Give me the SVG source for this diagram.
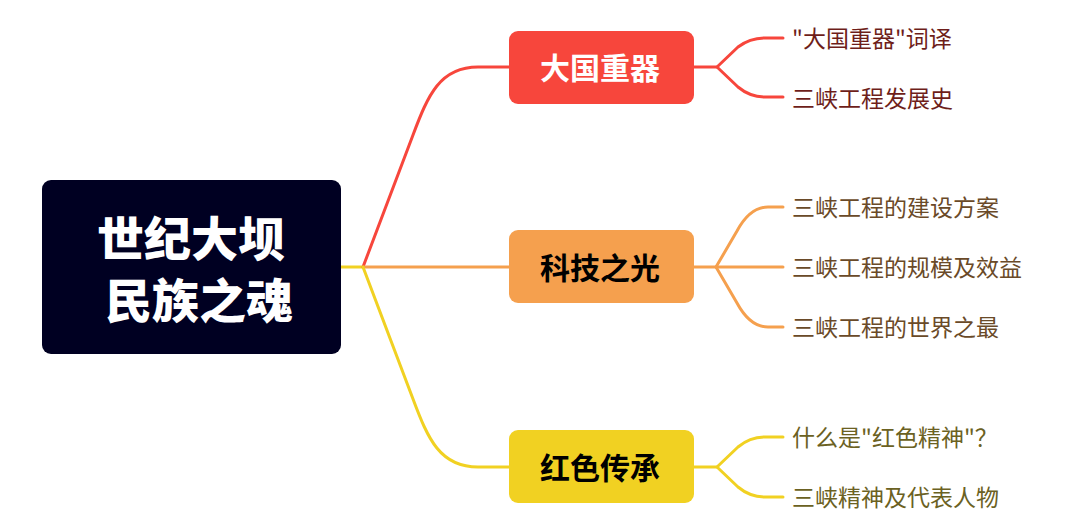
<svg xmlns="http://www.w3.org/2000/svg" width="1080" height="526" viewBox="0 0 1080 526">
<style>
.ln{fill:none;stroke-width:3;stroke-linecap:round;stroke-linejoin:round}
.r{stroke:#F7463C}.o{stroke:#F5A04E}.y{stroke:#F1D122}
.nt{font-family:"Noto Sans CJK SC","Noto Sans",sans-serif;font-weight:700;font-size:30px;text-anchor:middle;dominant-baseline:central}
.rt{font-family:"Noto Sans CJK SC","Noto Sans",sans-serif;font-weight:900;font-size:47px;fill:#ffffff;text-anchor:middle;dominant-baseline:central}
.ct{font-family:"Noto Sans CJK SC","Noto Sans",sans-serif;font-size:23px;dominant-baseline:central}
.cr{fill:#6E1E1A}.co{fill:#6A4A28}.cy{fill:#6B6122}
</style>
<rect width="1080" height="526" fill="#ffffff"/>
<g id="connectors">
<path class="ln y" d="M341,267 L363,267"/>
<path class="ln r" d="M363,267 L413,135 C428,95 440,67 478,67 L510,67"/>
<path class="ln o" d="M363,267 L510,267"/>
<path class="ln y" d="M363,267 L413,399 C428,439 440,467 478,467 L510,467"/>
<path class="ln r" d="M694,67 L717,67 L738,47 Q750,38 765,38 L783,38"/>
<path class="ln r" d="M717,67 L738,87 Q750,97 765,97 L783,97"/>
<path class="ln o" d="M694,267 L783,267"/>
<path class="ln o" d="M716,267 L737,231 Q750,207 768,207 L783,207"/>
<path class="ln o" d="M716,267 L737,303 Q750,327 768,327 L783,327"/>
<path class="ln y" d="M694,467 L717,467 L738,447 Q750,437 765,437 L783,437"/>
<path class="ln y" d="M717,467 L738,487 Q750,497 765,497 L783,497"/>
</g>
<g id="root">
<rect x="42" y="180" width="299" height="174" rx="9" fill="#000022"/>
<text class="rt" x="191" y="235">世纪大坝</text>
<text class="rt" x="199" y="297">民族之魂</text>
</g>
<g id="n1">
<rect x="509" y="31" width="185" height="73" rx="9" fill="#F7463C"/>
<text class="nt" x="600" y="66" fill="#ffffff">大国重器</text>
</g>
<g id="n2">
<rect x="509" y="230" width="185" height="73" rx="9" fill="#F5A04E"/>
<text class="nt" x="600" y="266" fill="#000000">科技之光</text>
</g>
<g id="n3">
<rect x="509" y="430" width="185" height="73" rx="9" fill="#F1D122"/>
<text class="nt" x="600" y="466" fill="#000000">红色传承</text>
</g>
<g id="c1"><text class="ct cr" x="792" y="37">"大国重器"词译</text></g>
<g id="c2"><text class="ct cr" x="792" y="97">三峡工程发展史</text></g>
<g id="c3"><text class="ct co" x="792" y="206">三峡工程的建设方案</text></g>
<g id="c4"><text class="ct co" x="792" y="266">三峡工程的规模及效益</text></g>
<g id="c5"><text class="ct co" x="792" y="326">三峡工程的世界之最</text></g>
<g id="c6"><text class="ct cy" x="792" y="436">什么是"红色精神"？</text></g>
<g id="c7"><text class="ct cy" x="792" y="496">三峡精神及代表人物</text></g>
</svg>
